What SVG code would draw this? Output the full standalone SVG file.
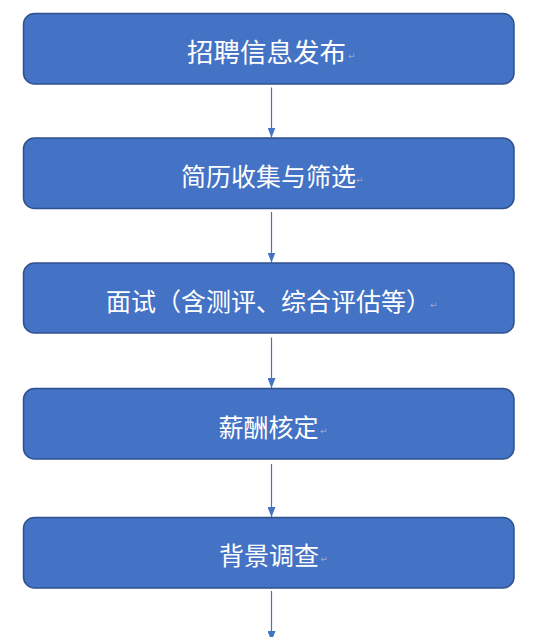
<svg xmlns="http://www.w3.org/2000/svg" width="546" height="637" viewBox="0 0 546 637">
  <defs>
    <style>
      .box { fill: #4472C4; stroke: #2F528F; stroke-width: 1.5; }
      .lbl { fill: #FFFFFF; font-family: "Noto Sans CJK SC", "Noto Sans", sans-serif; font-size: 25px; text-anchor: middle; }
      .mark { fill: #9FAACB; font-family: "DejaVu Sans", sans-serif; font-size: 9px; }
      .conn { stroke: #4472C4; stroke-width: 1.2; fill: none; marker-end: url(#arrow); }
    </style>
    <marker id="arrow" markerWidth="10" markerHeight="8" refX="10" refY="4" orient="auto" markerUnits="userSpaceOnUse" viewBox="0 0 10 8">
      <path d="M0,0 L10,4 L0,8 Z" fill="#4472C4"/>
    </marker>
  </defs>
  <rect width="546" height="637" fill="#FFFFFF"/>
  <g id="connectors">
    <line class="conn" x1="271.5" y1="87.5" x2="271.5" y2="137.5"/>
    <line class="conn" x1="271.5" y1="212" x2="271.5" y2="262.5"/>
    <line class="conn" x1="271.5" y1="337.5" x2="271.5" y2="388"/>
    <line class="conn" x1="271.5" y1="464" x2="271.5" y2="517"/>
    <line class="conn" x1="271.5" y1="591" x2="271.5" y2="641"/>
  </g>
  <g id="node1">
    <rect class="box" x="23.5" y="13.5" width="490.5" height="70.5" rx="11"/>
    <text class="lbl" x="266.5" y="61.5" style="font-size:26.5px">招聘信息发布</text>
    <text class="mark" x="348" y="59">↵</text>
  </g>
  <g id="node2">
    <rect class="box" x="23.5" y="138" width="490.5" height="70.5" rx="11"/>
    <text class="lbl" x="268.5" y="185.5">简历收集与筛选</text>
    <text class="mark" x="356" y="183">↵</text>
  </g>
  <g id="node3">
    <rect class="box" x="23.5" y="263" width="490.5" height="70" rx="11"/>
    <text class="lbl" x="268.5" y="310.5">面试（含测评、综合评估等）</text>
    <text class="mark" x="430" y="308">↵</text>
  </g>
  <g id="node4">
    <rect class="box" x="23.5" y="388.5" width="490.5" height="70.5" rx="11"/>
    <text class="lbl" x="268.5" y="436.5">薪酬核定</text>
    <text class="mark" x="320" y="434">↵</text>
  </g>
  <g id="node5">
    <rect class="box" x="23.5" y="517.5" width="490.5" height="70.5" rx="11"/>
    <text class="lbl" x="269" y="564.5">背景调查</text>
    <text class="mark" x="320.5" y="562">↵</text>
  </g>
</svg>
